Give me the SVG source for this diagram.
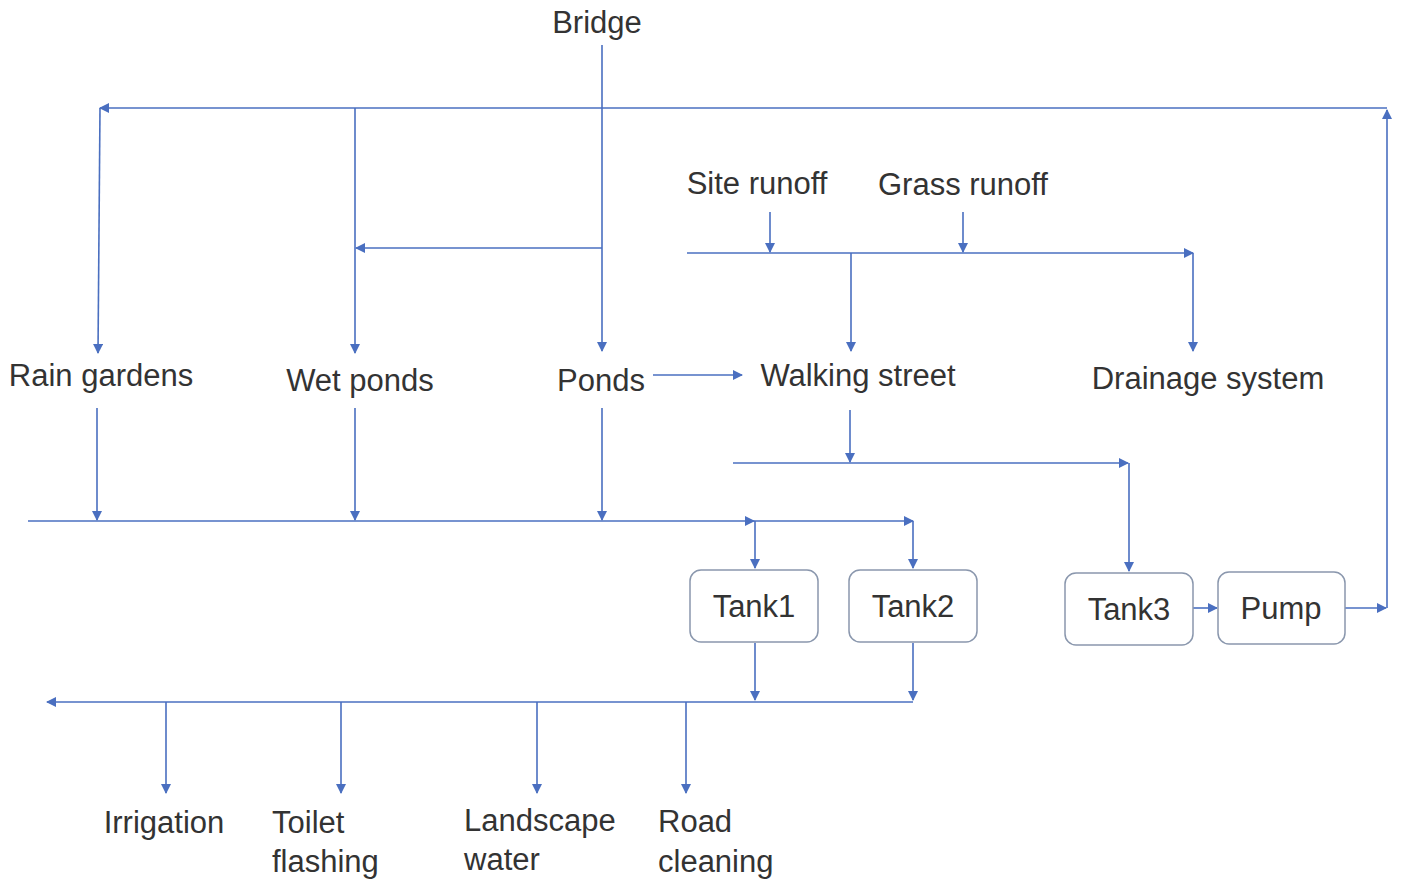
<svg xmlns="http://www.w3.org/2000/svg" width="1402" height="881" viewBox="0 0 1402 881">
  <defs>
    <marker id="arr" viewBox="0 0 10 10" refX="9" refY="5" markerWidth="10" markerHeight="10" markerUnits="userSpaceOnUse" orient="auto">
      <path d="M0,0 L10,5 L0,10 z" fill="#4a6fc0"/>
    </marker>
    <style>
      .lbl { font-family: "Liberation Sans", Arial, sans-serif; font-size: 31px; fill: #333; }
      .mid { text-anchor: middle; }
      .box { fill: #fff; stroke: #8a97ad; stroke-width: 1.5; }
      .ln { fill: none; stroke: #4a6fc0; stroke-width: 1.6; }
      .ar { marker-end: url(#arr); }
    </style>
  </defs>
  <rect width="1402" height="881" fill="#fff"/>

  <!-- connectors -->
  <g id="connectors">
    <!-- Bridge trunk and top loop -->
    <line class="ln ar" x1="602" y1="45" x2="602" y2="351"/>
    <line class="ln ar" x1="602" y1="248" x2="356" y2="248"/>
    <line class="ln ar" x1="1387" y1="108" x2="100" y2="108"/>
    <line class="ln ar" x1="100" y1="108" x2="98" y2="353"/>
    <line class="ln ar" x1="355" y1="108" x2="355" y2="353"/>
    <line class="ln ar" x1="1387" y1="608" x2="1387" y2="110"/>

    <!-- runoff collector -->
    <line class="ln ar" x1="770" y1="212" x2="770" y2="252"/>
    <line class="ln ar" x1="963" y1="212" x2="963" y2="252"/>
    <line class="ln ar" x1="687" y1="253" x2="1193" y2="253"/>
    <line class="ln ar" x1="1193" y1="253" x2="1193" y2="351"/>
    <line class="ln ar" x1="851" y1="253" x2="851" y2="351"/>

    <!-- Ponds to Walking street -->
    <line class="ln ar" x1="653" y1="375" x2="742" y2="375"/>

    <!-- Walking street to Tank3 -->
    <line class="ln ar" x1="850" y1="410" x2="850" y2="462"/>
    <line class="ln ar" x1="733" y1="463" x2="1128" y2="463"/>
    <line class="ln ar" x1="1129" y1="463" x2="1129" y2="571"/>

    <!-- ponds collector to Tank1 / Tank2 -->
    <line class="ln ar" x1="97" y1="408" x2="97" y2="520"/>
    <line class="ln ar" x1="355" y1="408" x2="355" y2="520"/>
    <line class="ln ar" x1="602" y1="408" x2="602" y2="520"/>
    <line class="ln ar" x1="28" y1="521" x2="754" y2="521"/>
    <line class="ln ar" x1="754" y1="521" x2="913" y2="521"/>
    <line class="ln ar" x1="755" y1="521" x2="755" y2="568"/>
    <line class="ln ar" x1="913" y1="521" x2="913" y2="568"/>

    <!-- Tank3 to Pump to return -->
    <line class="ln ar" x1="1193" y1="608" x2="1217" y2="608"/>
    <line class="ln ar" x1="1345" y1="608" x2="1386" y2="608"/>

    <!-- reuse distribution -->
    <line class="ln ar" x1="755" y1="643" x2="755" y2="700"/>
    <line class="ln ar" x1="913" y1="643" x2="913" y2="700"/>
    <line class="ln ar" x1="913" y1="702" x2="47" y2="702"/>
    <line class="ln ar" x1="166" y1="702" x2="166" y2="793"/>
    <line class="ln ar" x1="341" y1="702" x2="341" y2="793"/>
    <line class="ln ar" x1="537" y1="702" x2="537" y2="793"/>
    <line class="ln ar" x1="686" y1="702" x2="686" y2="793"/>
  </g>

  <!-- nodes -->
  <g id="bridge"><text class="lbl mid" x="597" y="33">Bridge</text></g>
  <g id="site-runoff"><text class="lbl mid" x="757" y="194">Site runoff</text></g>
  <g id="grass-runoff"><text class="lbl mid" x="963" y="195">Grass runoff</text></g>
  <g id="rain-gardens"><text class="lbl mid" x="101" y="386">Rain gardens</text></g>
  <g id="wet-ponds"><text class="lbl mid" x="360" y="391">Wet ponds</text></g>
  <g id="ponds"><text class="lbl mid" x="601" y="391">Ponds</text></g>
  <g id="walking-street"><text class="lbl mid" x="858" y="386">Walking street</text></g>
  <g id="drainage-system"><text class="lbl mid" x="1208" y="389">Drainage system</text></g>

  <g id="tank1">
    <rect class="box" x="690" y="570" width="128" height="72" rx="11"/>
    <text class="lbl mid" x="754" y="617">Tank1</text>
  </g>
  <g id="tank2">
    <rect class="box" x="849" y="570" width="128" height="72" rx="11"/>
    <text class="lbl mid" x="913" y="617">Tank2</text>
  </g>
  <g id="tank3">
    <rect class="box" x="1065" y="573" width="128" height="72" rx="11"/>
    <text class="lbl mid" x="1129" y="620">Tank3</text>
  </g>
  <g id="pump">
    <rect class="box" x="1218" y="572" width="127" height="72" rx="11"/>
    <text class="lbl mid" x="1281" y="619">Pump</text>
  </g>

  <g id="irrigation"><text class="lbl mid" x="164" y="833">Irrigation</text></g>
  <g id="toilet-flashing">
    <text class="lbl" x="272" y="833">Toilet</text>
    <text class="lbl" x="272" y="872">flashing</text>
  </g>
  <g id="landscape-water">
    <text class="lbl" x="464" y="831">Landscape</text>
    <text class="lbl" x="464" y="870">water</text>
  </g>
  <g id="road-cleaning">
    <text class="lbl" x="658" y="832">Road</text>
    <text class="lbl" x="658" y="872">cleaning</text>
  </g>
</svg>
